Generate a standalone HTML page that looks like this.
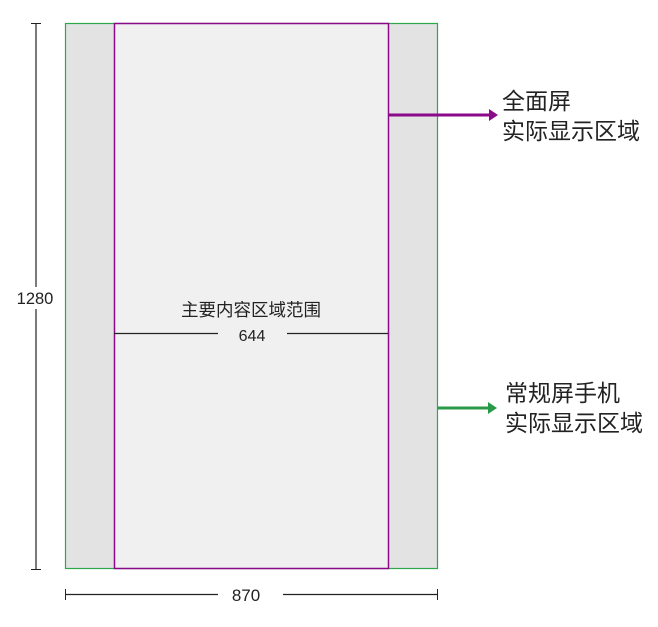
<!DOCTYPE html>
<html><head><meta charset="utf-8"><style>
body{margin:0;background:#fff;width:658px;height:622px;overflow:hidden}
svg text{font-family:"Liberation Sans","Noto Sans CJK SC",sans-serif;fill:#222}
</style></head><body>
<svg width="658" height="622" viewBox="0 0 658 622">
<rect x="65.5" y="23.5" width="372" height="545" fill="#e3e3e3" stroke="#2aa84a" stroke-width="1.2"/>
<rect x="114.5" y="23.5" width="274" height="545" fill="#f0f0f0" stroke="#8a0a8a" stroke-width="1.5"/>
<line x1="36" y1="23" x2="36" y2="569" stroke="#222" stroke-width="1.2"/>
<line x1="31" y1="23.5" x2="41" y2="23.5" stroke="#222"/>
<line x1="31" y1="569.5" x2="41" y2="569.5" stroke="#222"/>
<rect x="13" y="287" width="46" height="22" fill="#fff"/>
<text x="35" y="304" font-size="16.5" text-anchor="middle">1280</text>
<line x1="65" y1="594.5" x2="218" y2="594.5" stroke="#222" stroke-width="1.2"/>
<line x1="283" y1="594.5" x2="437" y2="594.5" stroke="#222" stroke-width="1.2"/>
<line x1="65.5" y1="589" x2="65.5" y2="600" stroke="#222"/>
<line x1="437.5" y1="589" x2="437.5" y2="600" stroke="#222"/>
<text x="246" y="601" font-size="17" text-anchor="middle">870</text>
<text x="251" y="316" font-size="17.5" text-anchor="middle">主要内容区域范围</text>
<line x1="114" y1="333.5" x2="218" y2="333.5" stroke="#222" stroke-width="1.2"/>
<line x1="287" y1="333.5" x2="388" y2="333.5" stroke="#222" stroke-width="1.2"/>
<text x="252" y="341" font-size="16" text-anchor="middle">644</text>
<line x1="389" y1="115" x2="491" y2="115" stroke="#8a0a8a" stroke-width="3"/>
<polygon points="489,109 498,115 489,121" fill="#8a0a8a"/>
<text x="502" y="109" font-size="23">全面屏</text>
<text x="502" y="139" font-size="23">实际显示区域</text>
<line x1="438" y1="408" x2="490" y2="408" stroke="#2a9a48" stroke-width="3"/>
<polygon points="488,402 497,408 488,414" fill="#2a9a48"/>
<text x="505" y="401" font-size="23">常规屏手机</text>
<text x="505" y="431" font-size="23">实际显示区域</text>
</svg>
</body></html>
